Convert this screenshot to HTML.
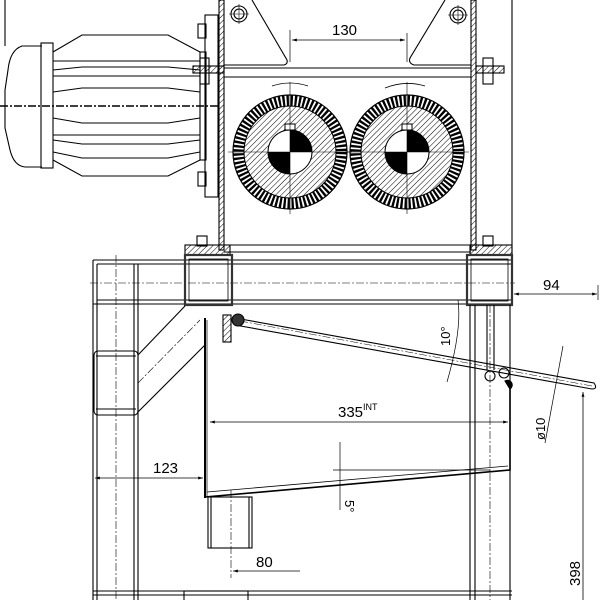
<!DOCTYPE html>
<html><head><meta charset="utf-8"><style>html,body{margin:0;padding:0;background:#fff}svg{display:block}</style></head>
<body>
<svg width="600" height="600" viewBox="0 0 600 600" xmlns="http://www.w3.org/2000/svg" font-family="Liberation Sans, sans-serif">
<defs>
<pattern id="h" patternUnits="userSpaceOnUse" width="4" height="4" patternTransform="rotate(45)"><line x1="0" y1="0" x2="0" y2="4" stroke="#000" stroke-width="1"/></pattern>
<marker id="a" viewBox="0 0 10 10" refX="10" refY="5" markerWidth="8" markerHeight="6" orient="auto-start-reverse"><path d="M0,2 L10,5 L0,8z" fill="#000"/></marker>
<g id="roll">
<circle r="57" fill="none" stroke="#000" stroke-width="1.2"/>
<circle r="51.5" fill="none" stroke="#000" stroke-width="11" stroke-dasharray="2.3 1.75"/>
<circle r="46" fill="url(#h)" stroke="#000" stroke-width="1"/>
<circle r="22" fill="#fff" stroke="#000" stroke-width="1"/>
<path d="M0,0 L0,-22 A22,22 0 0 1 22,0z M0,0 L0,22 A22,22 0 0 1 -22,0z" fill="#000"/>
<rect x="-5" y="-28" width="10" height="6" fill="#fff" stroke="#000"/>
<line x1="-62" y1="0" x2="62" y2="0" stroke="#000" stroke-width="0.6"/>
<line x1="0" y1="-70" x2="0" y2="62" stroke="#000" stroke-width="0.6"/>
</g>
</defs>
<g fill="none" stroke="#000" stroke-width="1.1">
<line x1="5" y1="0" x2="5" y2="46"/>
<path d="M42,46 L22,46 Q10,50 8,70 L5,90 L5,128 L10,150 Q14,166 25,167 L42,167"/>
<rect x="41" y="43" width="12" height="125"/>
<path d="M53,52 L82,35 L168,35 L200,52 M53,61 L200,61 M53,70 L82,67 L168,67 L200,70 M53,76 L200,76 M53,92 L82,88 L168,88 L200,92 M53,118 L82,123 L168,123 L200,118 M53,135 L200,135 M53,140 L82,144 L168,144 L200,140 M53,152 L82,158 L168,158 L200,152 M53,160 L82,176 L168,176 L200,160"/>
<line x1="0" y1="106" x2="218" y2="106" stroke-dasharray="8 2 2 2" stroke-width="1.5"/>
<rect x="200" y="52" width="6" height="108"/>
<rect x="205" y="15" width="13" height="182"/>
<rect x="198" y="24" width="8" height="14"/><rect x="198" y="172" width="8" height="14"/>
<rect x="219" y="0" width="5" height="250" fill="url(#h)"/>
<rect x="471" y="0" width="5" height="250" fill="url(#h)"/>
<line x1="512" y1="0" x2="512" y2="260"/>
<path d="M252,0 L287,60 Q288,64 284,65 L224,65"/>
<path d="M445,0 L410,58 Q408,63 414,65 L471,65"/>
<circle cx="239" cy="14" r="8"/><circle cx="239" cy="14" r="5"/><line x1="229" y1="14" x2="249" y2="14" stroke-width="0.6"/><line x1="239" y1="4" x2="239" y2="24" stroke-width="0.6"/>
<circle cx="458" cy="15" r="8"/><circle cx="458" cy="15" r="5"/><line x1="448" y1="15" x2="468" y2="15" stroke-width="0.6"/><line x1="458" y1="5" x2="458" y2="25" stroke-width="0.6"/>
<rect x="193" y="66" width="31" height="7" fill="url(#h)"/><rect x="476" y="66" width="28" height="7" fill="url(#h)"/>
<line x1="224" y1="68" x2="471" y2="68"/><line x1="224" y1="77" x2="471" y2="77"/>
<rect x="200" y="58" width="9" height="26"/><rect x="483" y="58" width="10" height="26"/>
<line x1="290" y1="30" x2="290" y2="62" stroke-width="0.7"/><line x1="407" y1="33" x2="407" y2="62" stroke-width="0.7"/>
<line x1="292" y1="40" x2="405" y2="40" stroke-width="0.8" marker-start="url(#a)" marker-end="url(#a)"/>
<path d="M272,86 Q290,80 308,86" stroke-width="0.8"/><path d="M385,88 Q405,80 425,86" stroke-width="0.8"/>
<line x1="224" y1="245" x2="471" y2="245"/><line x1="224" y1="252" x2="471" y2="252"/>
<rect x="185" y="245" width="45" height="10" fill="url(#h)"/><rect x="470" y="245" width="42" height="10" fill="url(#h)"/>
<rect x="197" y="236" width="10" height="10"/><rect x="483" y="236" width="10" height="10"/>
<line x1="93" y1="260" x2="512" y2="260"/><line x1="97" y1="264" x2="512" y2="264"/>
<line x1="97" y1="300" x2="512" y2="300"/><line x1="93" y1="304" x2="512" y2="304"/>
<line x1="90" y1="283" x2="515" y2="283" stroke-width="0.6" stroke-dasharray="8 2 2 2"/>
<rect x="185" y="255" width="47" height="50" stroke-width="2.2" stroke="#333"/>
<rect x="189" y="259" width="39" height="42" stroke-width="0.8"/>
<rect x="467" y="255" width="45" height="50" stroke-width="2.2" stroke="#333"/>
<rect x="471" y="259" width="37" height="42" stroke-width="0.8"/>
<line x1="93" y1="260" x2="93" y2="600"/><line x1="97" y1="264" x2="97" y2="600"/>
<line x1="134" y1="264" x2="134" y2="600"/><line x1="138" y1="264" x2="138" y2="600"/>
<line x1="116" y1="255" x2="116" y2="600" stroke-width="0.6" stroke-dasharray="8 2 2 2"/>
<rect x="94" y="351" width="44" height="64" rx="4"/>
<line x1="96" y1="356" x2="136" y2="356"/><line x1="96" y1="409" x2="136" y2="409"/>
<line x1="138" y1="355" x2="185" y2="306"/><line x1="138" y1="412" x2="205" y2="345"/>
<line x1="138" y1="383" x2="200" y2="320" stroke-width="0.6" stroke-dasharray="8 2 2 2"/>
<line x1="470" y1="305" x2="470" y2="600"/><line x1="475" y1="305" x2="475" y2="600"/>
<line x1="510" y1="305" x2="510" y2="600"/><line x1="490" y1="305" x2="490" y2="600" stroke-width="0.6" stroke-dasharray="8 2 2 2"/>
<line x1="487" y1="305" x2="487" y2="370"/><line x1="494" y1="305" x2="494" y2="370"/>
<circle cx="490" cy="376" r="5"/><circle cx="504" cy="373" r="5"/>
<line x1="93" y1="591" x2="512" y2="591"/><line x1="93" y1="595" x2="512" y2="595"/>
<rect x="184" y="591" width="64" height="12"/>
<rect x="204" y="318" width="2" height="180" fill="#000" stroke="none"/>
<line x1="207" y1="320" x2="207" y2="497" stroke-width="0.7"/>
<path d="M205,497 L510,470 L510,385" stroke-width="1.6"/>
<path d="M207,492 L508,466" stroke-width="0.8"/>
<rect x="208" y="497" width="44" height="51"/>
<line x1="211" y1="497" x2="211" y2="548"/><line x1="249" y1="497" x2="249" y2="548"/>
<rect x="223" y="315" width="8" height="27" fill="url(#h)"/>
<path d="M235,318 L594,383 Q598,389 592,389 L235,325" stroke-width="1.1"/>
<line x1="240" y1="321" x2="592" y2="386" stroke-width="0.5" stroke-dasharray="8 2 2 2"/>
<circle cx="238" cy="320" r="6" fill="#333"/>
<path d="M505,381 A4,4 0 0 1 510,389 Z" fill="#000"/>
<line x1="210" y1="422" x2="508" y2="422" stroke-width="0.8" marker-start="url(#a)" marker-end="url(#a)"/>
<line x1="95" y1="478" x2="203" y2="478" stroke-width="0.8" marker-start="url(#a)" marker-end="url(#a)"/>
<line x1="231" y1="490" x2="231" y2="578" stroke-width="0.6" stroke-dasharray="8 2 2 2"/>
<line x1="233" y1="571" x2="300" y2="571" stroke-width="0.8" marker-start="url(#a)"/>
<line x1="514" y1="294" x2="597" y2="294" stroke-width="0.8" marker-start="url(#a)" marker-end="url(#a)"/>
<line x1="598" y1="285" x2="598" y2="300" stroke-width="0.7"/>
<line x1="583" y1="392" x2="583" y2="600" stroke-width="0.8" marker-start="url(#a)"/>
<path d="M458,300 Q462,330 447,382" stroke-width="0.7"/>
<line x1="333" y1="470" x2="490" y2="470" stroke-width="0.7"/>
<path d="M340,442 L340,510" stroke-width="0.7"/>
<line x1="563" y1="346" x2="545" y2="443" stroke-width="0.7"/>
</g>
<use href="#roll" x="290" y="152"/>
<use href="#roll" x="407" y="152"/>
<g font-size="15" fill="#000">
<text x="332" y="35">130</text>
<text x="338" y="417">335<tspan font-size="9" dy="-7">INT</tspan></text>
<text x="153" y="473">123</text>
<text x="256" y="567">80</text>
<text x="543" y="290">94</text>
<text transform="translate(580,586) rotate(-90)">398</text>
<text transform="translate(450,346) rotate(-90)" font-size="13">10°</text>
<text transform="translate(345,500) rotate(90)" font-size="13">5°</text>
<text transform="translate(545,440) rotate(-90)" font-size="13">ø10</text>
</g>
</svg>
</body></html>
